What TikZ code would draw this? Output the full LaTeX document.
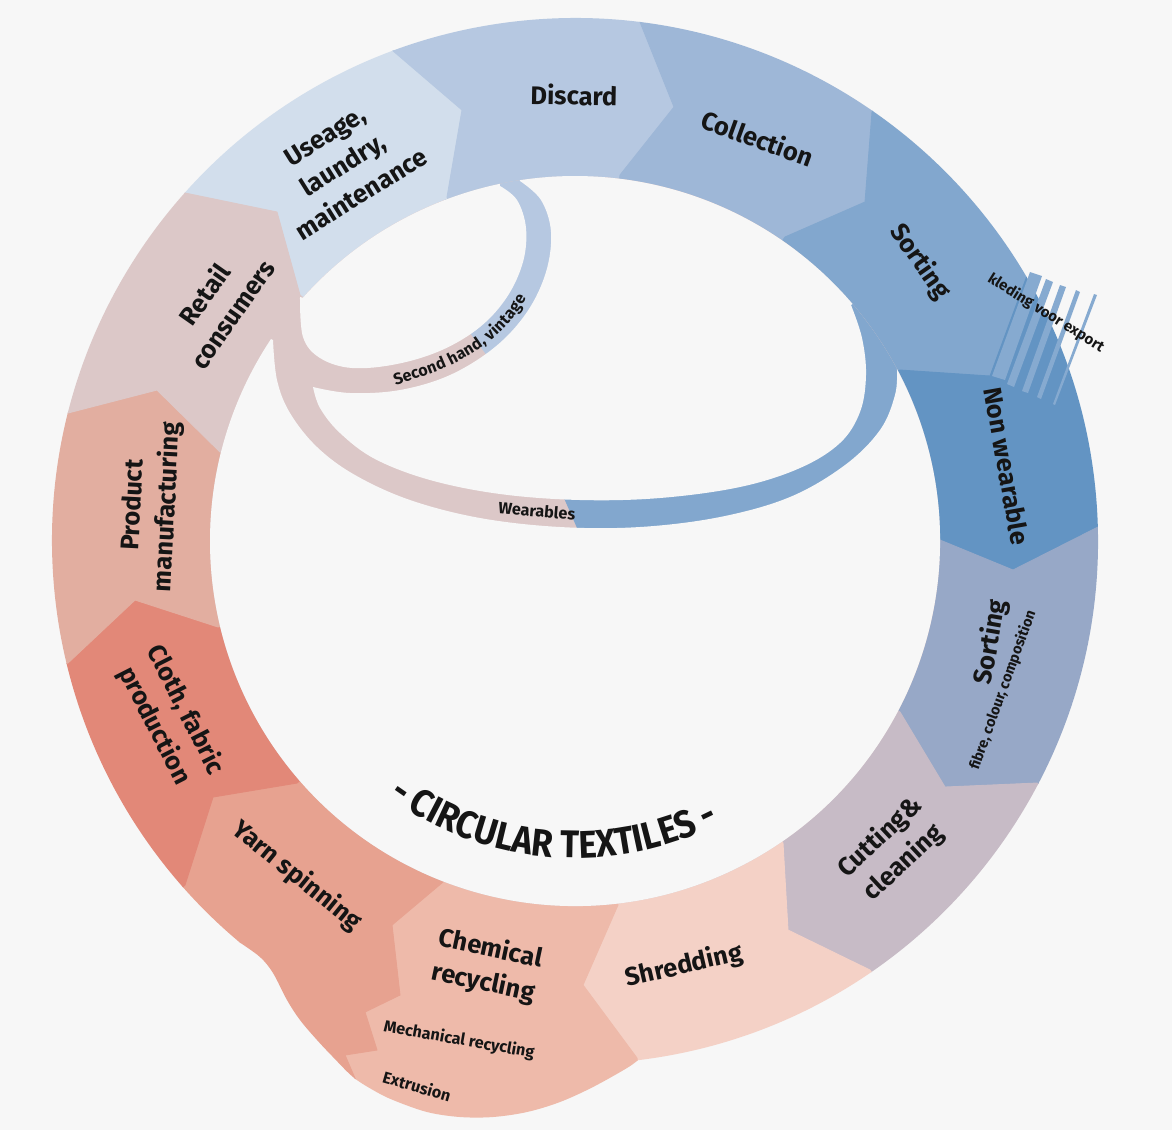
\documentclass[tikz,border=0pt]{standalone}
\usepackage{fontspec}
\setmainfont{Fira Sans}
\newfontfamily\condfamily{Fira Sans}[FakeStretch=0.9]
\usetikzlibrary{calc,decorations.text}
\definecolor{bgc}{HTML}{F7F7F7}
\definecolor{cUse}{HTML}{D2DEEC}
\definecolor{cDis}{HTML}{B6C8E1}
\definecolor{cCol}{HTML}{9EB7D7}
\definecolor{cSor}{HTML}{82A7CE}
\definecolor{cNon}{HTML}{6394C3}
\definecolor{cFib}{HTML}{97A8C7}
\definecolor{cCut}{HTML}{C7BBC6}
\definecolor{cShr}{HTML}{F4D1C6}
\definecolor{cChe}{HTML}{EEBAAA}
\definecolor{cYar}{HTML}{E7A290}
\definecolor{cClo}{HTML}{E28878}
\definecolor{cPro}{HTML}{E2AEA0}
\definecolor{cRet}{HTML}{DCC8C8}
\definecolor{cStr}{HTML}{86AAD0}
\definecolor{ink}{HTML}{151515}
\newcommand\lblfont{\fontsize{14.5}{19.5}\selectfont\bfseries}
\newcommand\smlfont{\fontsize{9.2}{10.5}\selectfont\bfseries}
\newcommand\tinyfont{\fontsize{8.5}{10}\selectfont\bfseries}
\newcommand\circfont{\condfamily\fontsize{22}{23}\selectfont\bfseries}
\begin{document}
\begin{tikzpicture}[x=0.02cm, y=-0.02cm,
  seg/.style={fill=#1, draw=#1, line width=0.5pt, line join=round},
  lbl/.style={font=\lblfont, text=ink, align=center, inner sep=0pt},
  sml/.style={font=\smlfont, text=ink, align=center, inner sep=0pt}]
\useasboundingbox (0,0) rectangle (1172,1130);
\fill[bgc] (0,0) rectangle (1172,1130);
\coordinate (C) at (575,541);
% boundaries: inner, tip, outer, far point
\coordinate (b1i) at (447,197); \coordinate (b1t) at (462,110); \coordinate (b1o) at (392,50); \coordinate (b1x) at ($(C)+(249.6:800)$);
\coordinate (b2i) at (620,175); \coordinate (b2t) at (674,107); \coordinate (b2o) at (640,22); \coordinate (b2x) at ($(C)+(277.0:800)$);
\coordinate (b3i) at (785,237); \coordinate (b3t) at (865,202); \coordinate (b3o) at (872,112); \coordinate (b3x) at ($(C)+(304.7:800)$);
\coordinate (b4i) at (900,370); \coordinate (b4t) at (990,376); \coordinate (b4o) at (1028,273); \coordinate (b4x) at ($(C)+(329.4:800)$);
\coordinate (b5i) at (940,540); \coordinate (b5t) at (1013,570); \coordinate (b5o) at (1098,527); \coordinate (b5x) at ($(C)+(358.5:800)$);
\coordinate (b6i) at (900,712); \coordinate (b6t) at (945,787); \coordinate (b6o) at (1037,783); \coordinate (b6x) at ($(C)+(27.6:800)$);
\coordinate (b7i) at (783,843); \coordinate (b7t) at (788,930); \coordinate (b7o) at (870,970); \coordinate (b7x) at ($(C)+(55.5:800)$);
\coordinate (b8i) at (618,905); \coordinate (b8t) at (583,985); \coordinate (b8o) at (637,1058); \coordinate (b8x) at ($(C)+(83.2:800)$);
\coordinate (b9i) at (443,882); \coordinate (b9b) at (392,925); \coordinate (b9c) at (400,995); \coordinate (b9d) at (365,1012);
\coordinate (b9e) at (377,1050); \coordinate (b9f) at (345,1055); \coordinate (b9o) at (357,1083); \coordinate (b9x) at ($(C)+(112:800)$);
\coordinate (b10i) at (297,783); \coordinate (b10t) at (213,797); \coordinate (b10o) at (185,885); \coordinate (b10x) at ($(C)+(138.6:800)$);
\coordinate (b11i) at (218,627); \coordinate (b11t) at (135,600); \coordinate (b11o) at (68,663); \coordinate (b11x) at ($(C)+(166.5:800)$);
\coordinate (b12i) at (220,452); \coordinate (b12t) at (157,390); \coordinate (b12o) at (68,413); \coordinate (b12x) at ($(C)+(194.2:800)$);
\coordinate (b13i) at (300,295); \coordinate (b13t) at (277,212); \coordinate (b13o) at (185,193); \coordinate (b13x) at ($(C)+(221.7:800)$);

\begin{scope}
\clip ($(C)+(83.2:523)$) arc[start angle=83.2, end angle=-230, radius=523]
  -- plot[smooth, tension=0.55] coordinates {(239,942) (260,957) (273,973) (287,1000) (300,1020) (317,1040) (333,1057) (353,1077) (373,1090) (393,1100) (427,1112) (460,1117) (493,1117) (527,1112) (560,1102) (593,1087) (627,1068) (638,1060)} -- cycle;
\fill[seg=cUse] (C) -- (b13i) -- (b13t) -- (b13o) -- (b13x) -- (b1x) -- (b1o) -- (b1t) -- (b1i) -- cycle;
\fill[seg=cDis] (C) -- (b1i) -- (b1t) -- (b1o) -- (b1x) -- (b2x) -- (b2o) -- (b2t) -- (b2i) -- cycle;
\fill[seg=cCol] (C) -- (b2i) -- (b2t) -- (b2o) -- (b2x) -- (b3x) -- (b3o) -- (b3t) -- (b3i) -- cycle;
\fill[seg=cSor] (C) -- (b3i) -- (b3t) -- (b3o) -- (b3x) -- (b4x) -- (b4o) -- (b4t) -- (b4i) -- cycle;
\fill[seg=cNon] (C) -- (b4i) -- (b4t) -- (b4o) -- (b4x) -- (b5x) -- (b5o) -- (b5t) -- (b5i) -- cycle;
\fill[seg=cFib] (C) -- (b5i) -- (b5t) -- (b5o) -- (b5x) -- (b6x) -- (b6o) -- (b6t) -- (b6i) -- cycle;
\fill[seg=cCut] (C) -- (b6i) -- (b6t) -- (b6o) -- (b6x) -- (b7x) -- (b7o) -- (b7t) -- (b7i) -- cycle;
\fill[seg=cShr] (C) -- (b7i) -- (b7t) -- (b7o) -- (b7x) -- (b8x) -- (b8o) -- (b8t) -- (b8i) -- cycle;
\fill[seg=cChe] (C) -- (b8i) -- (b8t) -- (b8o) -- (b8x) -- (b9x) -- (b9o) -- (b9f) -- (b9e) -- (b9d) -- (b9c) -- (b9b) -- (b9i) -- cycle;
\fill[seg=cYar] (C) -- (b9i) -- (b9b) -- (b9c) -- (b9d) -- (b9e) -- (b9f) -- (b9o) -- (b9x) -- (b10x) -- (b10o) -- (b10t) -- (b10i) -- cycle;
\fill[seg=cClo] (C) -- (b10i) -- (b10t) -- (b10o) -- (b10x) -- (b11x) -- (b11o) -- (b11t) -- (b11i) -- cycle;
\fill[seg=cPro] (C) -- (b11i) -- (b11t) -- (b11o) -- (b11x) -- (b12x) -- (b12o) -- (b12t) -- (b12i) -- cycle;
\fill[seg=cRet] (C) -- (b12i) -- (b12t) -- (b12o) -- (b12x) -- (b13x) -- (b13o) -- (b13t) -- (b13i) -- cycle;
\end{scope}

% inner area: loops
\fill[cRet] (C) circle[radius=365];
\begin{scope}
\clip (584,544) -- (560,489) -- (640,380) -- (760,250) -- (960,250) -- (960,560) -- cycle;
\fill[cSor] (C) circle[radius=365];
\end{scope}
\begin{scope}
\clip (455,313) -- (500,373) -- (600,300) -- (600,150) -- (440,150) -- cycle;
\fill[cDis] (C) circle[radius=365];
\end{scope}
% holes
\fill[bgc] ($(C)+(221.8:365)$) arc[start angle=221.8, end angle=258.1, radius=365]
  -- plot[smooth, tension=0.6] coordinates {(500,186) (517,200) (526,228) (523,262) (507,297) (480,327) (442,350) (397,364) (352,368) (320,358) (303,337) (300,297)} -- cycle;
\fill[bgc] ($(C)+(261.3:365)$) arc[start angle=261.3, end angle=319.5, radius=365]
  -- plot[smooth, tension=0.6] coordinates {(851,305) (862,338) (866,375) (860,412) (840,443) (800,468) (740,487) (660,498) (580,500) (500,494) (430,480) (375,459) (340,433) (320,408) (313,387)}
  -- plot[smooth, tension=0.6] coordinates {(313,387) (350,393) (400,390) (450,375) (495,347) (527,312) (546,272) (551,232) (541,200) (520,181)} -- cycle;
\fill[bgc] ($(C)+(331.9:365)$) arc[start angle=331.9, end angle=573.6, radius=365]
  -- plot[smooth, tension=0.6] coordinates {(273,340) (277,380) (290,413) (317,447) (355,475) (410,500) (480,518) (560,527) (640,527) (720,517) (790,497) (845,465) (880,430) (895,395) (897,370)} -- cycle;

% export stripes
\fill[cStr] (992,376) -- (1005,380) -- (1042,276) -- (1030,272) -- cycle;
\fill[cStr] (1007,384) -- (1014,387) -- (1053,282) -- (1046,279) -- cycle;
\fill[cStr] (1022,391) -- (1028,393) -- (1066,287) -- (1060,285) -- cycle;
\fill[cStr] (1037,397) -- (1041,399) -- (1080,292) -- (1076,290) -- cycle;
\fill[cStr] (1053,404) -- (1055,405) -- (1097,295) -- (1094,294) -- cycle;

% labels
\node[lbl, rotate=-1] (discard) at (574,95) {Discard};
\node[lbl, rotate=-20] (collection) at (758,138) {Collection};
\node[lbl, rotate=-55] (sorting1) at (920,262) {Sorting};
\node[sml, rotate=-32, font=\tinyfont] (export) at (1046,313) {kleding voor export};
\node[lbl, rotate=-80] (nonwear) at (1007,466) {Non wearable};
\node[lbl, rotate=80] (sorting2) at (991,642) {Sorting};
\node[sml, rotate=70, font=\fontsize{8.3}{9}\selectfont\bfseries] (fibre) at (1003,690) {fibre, colour, composition};
\node[lbl, rotate=43] (cutting) at (892,850) {Cutting\&\\cleaning};
\node[lbl, rotate=13] (shredding) at (684,966) {Shredding};
\node[lbl, rotate=-12] (chemical) at (487,966) {Chemical\\recycling};
\node[sml, rotate=-10] (mechanical) at (459,1040) {Mechanical recycling};
\node[sml, rotate=-16] (extrusion) at (417,1086) {Extrusion};
\node[lbl, rotate=-39] (yarn) at (297,876) {Yarn spinning};
\node[lbl, rotate=-63] (cloth) at (170,718) {Cloth, fabric\\production};
\node[lbl, rotate=87] (product) at (151,506) {Product\\manufacturing};
\node[lbl, rotate=55] (retail) at (218,304) {Retail\\consumers};
\node[lbl, rotate=32] (useage) at (343,165) {Useage,\\laundry,\\maintenance};
\node[sml, rotate=-5] (wearables) at (537,511) {Wearables};
\path[decorate, decoration={text along path, text align=left, raise=-2.8pt,
   text={|\smlfont\color{ink}|Second hand, vintage}}]
   plot[smooth, tension=0.6] coordinates {(394,381) (446,362) (487,337) (517,304) (534,267) (545,230)};
\path[decorate, decoration={text along path, text align=center,
   text={|\circfont\color{ink}|- CIRCULAR TEXTILES -}}]
   ($(C)+(131:317)$) arc[start angle=131, end angle=58, radius=317];
\end{tikzpicture}
\end{document}
